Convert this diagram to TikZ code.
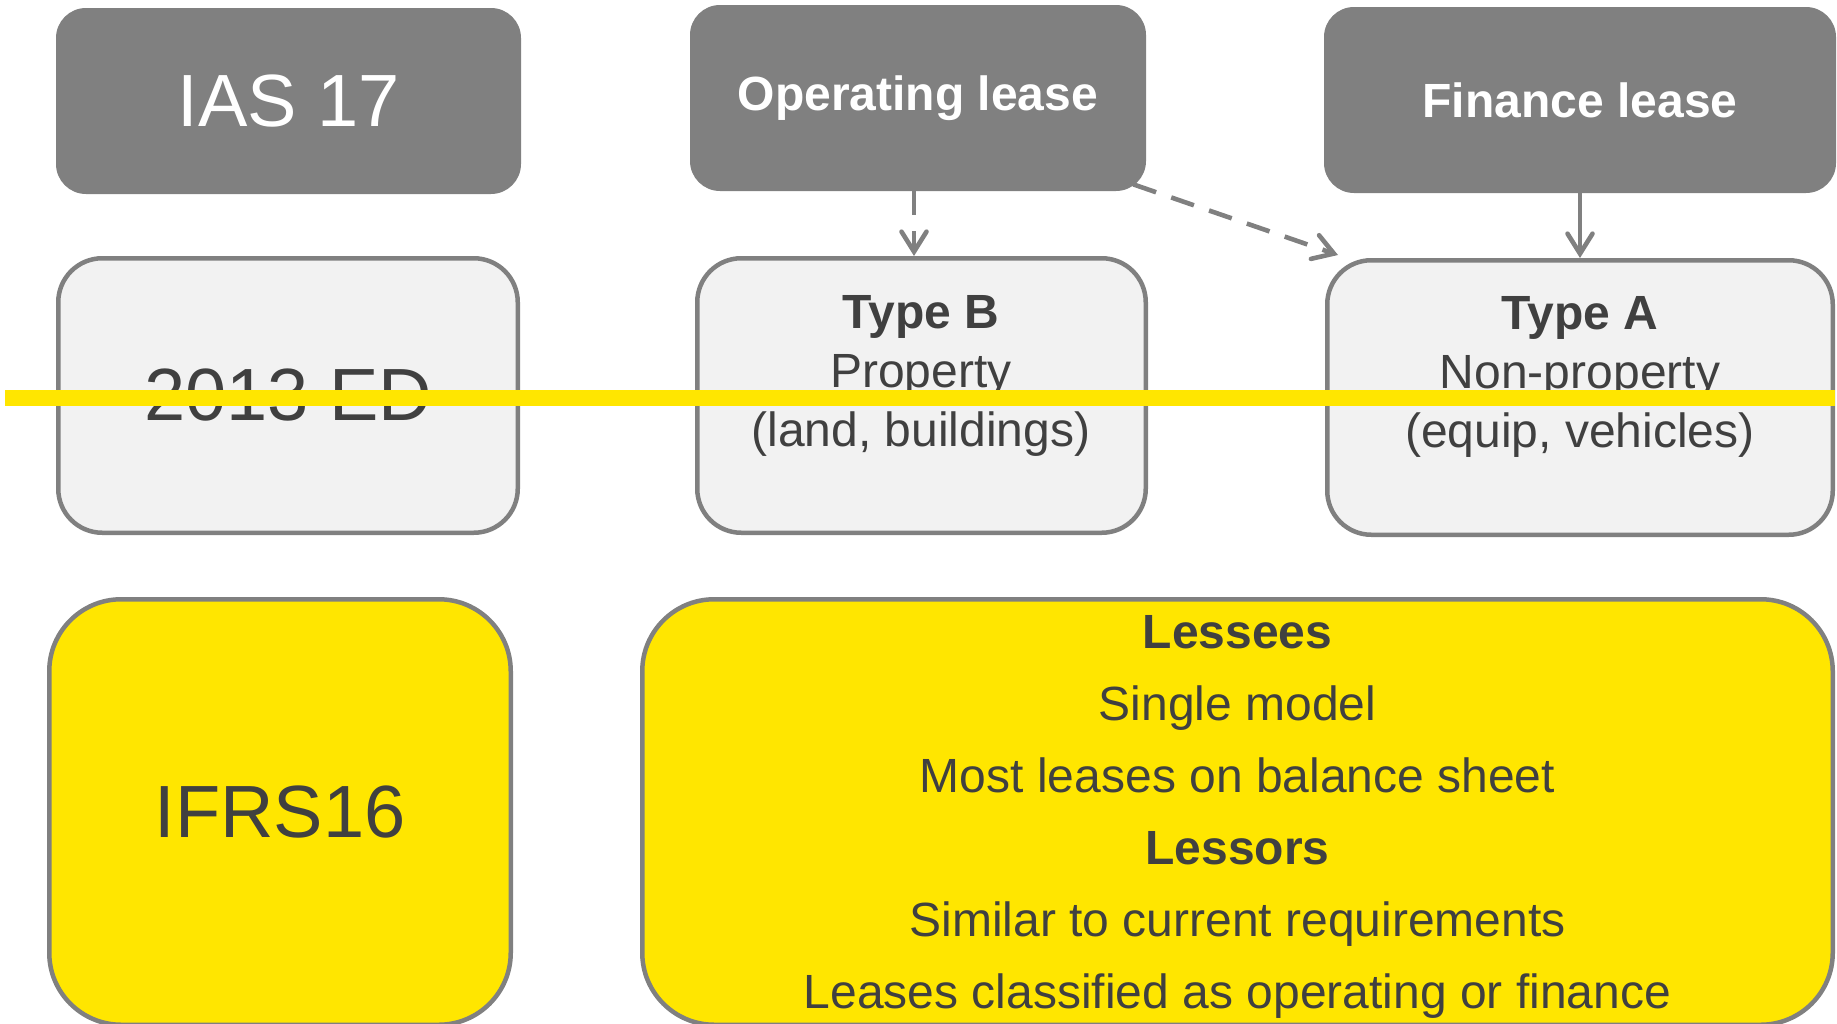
\documentclass[tikz,border=0pt]{standalone}
\usepackage{fontspec}
\setmainfont{Liberation Sans}
\usepackage{tikz}
\usetikzlibrary{arrows.meta,calc,positioning}
\definecolor{boxgrey}{HTML}{808080}
\definecolor{lightfill}{HTML}{F2F2F2}
\definecolor{leaseyellow}{HTML}{FFE600}
\definecolor{textgrey}{HTML}{404040}
\tikzset{
  header/.style={fill=boxgrey, rounded corners=15pt, inner sep=0pt, minimum height=93pt, align=center, text=white, font=\bfseries\fontsize{24}{28}\selectfont},
  draft/.style={draw=boxgrey, line width=2.25pt, fill=lightfill, rounded corners=22pt, inner sep=0pt, minimum height=137.25pt},
  newstd/.style={draw=boxgrey, line width=2.25pt, fill=leaseyellow, rounded corners=36pt, inner sep=0pt, minimum height=212.75pt},
  bigtext/.style={text=textgrey, font=\fontsize{37}{44}\selectfont},
  bodytext/.style={text=textgrey, align=center, inner sep=0pt, font=\fontsize{24}{29.3}\selectfont},
  flow/.style={-{Straight Barb[length=10pt,width=12.5pt,line cap=round]}, line width=2.3pt, draw=boxgrey},
  dashflow/.style={flow, dash pattern=on 12pt off 8pt},
  strike/.style={line width=8pt, draw=leaseyellow}
}

\begin{document}
\begin{tikzpicture}[x=0.5pt,y=-0.5pt]
  \useasboundingbox (0,0) rectangle (1837,1023);

  % top row: IAS 17
  \node[header, minimum width=232.5pt, font=\fontsize{37}{44}\selectfont] (ias) at (288.5,101) {IAS 17};
  \node[header, minimum width=228pt] (oplease) at (918,98) {Operating lease};
  \node[header, minimum width=256pt] (finance) at (1580,100) {Finance lease};

  % middle row: 2013 ED
  \node[draft, minimum width=229.75pt, bigtext] (ed) at (288,395.5) {2013 ED};
  \node[draft, minimum width=224.25pt] (typeB) at (921.5,395.5) {};
  \node[bodytext, anchor=base] (typeBtxt) at (921,446) {\textbf{Type B}\\Property\\(land, buildings)};
  \node[draft, minimum width=252.75pt] (typeA) at (1580,397.5) {};
  \node[bodytext, anchor=base] (typeAtxt) at (1580,447) {\textbf{Type A}\\Non-property\\(equip, vehicles)};

  % bottom row: IFRS16
  \node[newstd, minimum width=230.75pt, bigtext] (ifrs) at (280,812) {IFRS16};
  \node[newstd, minimum width=595.25pt] (model) at (1237.5,812) {};
  \node[bodytext, anchor=base, font=\fontsize{24}{36}\selectfont] (modeltxt) at (1237.5,1008)
    {\textbf{Lessees}\\Single model\\Most leases on balance sheet\\\textbf{Lessors}\\Similar to current requirements\\Leases classified as operating or finance};

  \draw[dashflow] ([xshift=-2pt]oplease.south) -- ([xshift=-2pt]oplease.south |- typeB.north);
  \draw[dashflow] ($(oplease.south east)+(-13,-7)$) -- ($(typeA.north west)+(13,-3)$);
  \draw[flow] (finance.south) -- (typeA.north);

  \coordinate (strikeL) at (5,398);
  \coordinate (strikeR) at (1835,398);
  \draw[strike] (strikeL) -- (strikeR);
\end{tikzpicture}
\end{document}
